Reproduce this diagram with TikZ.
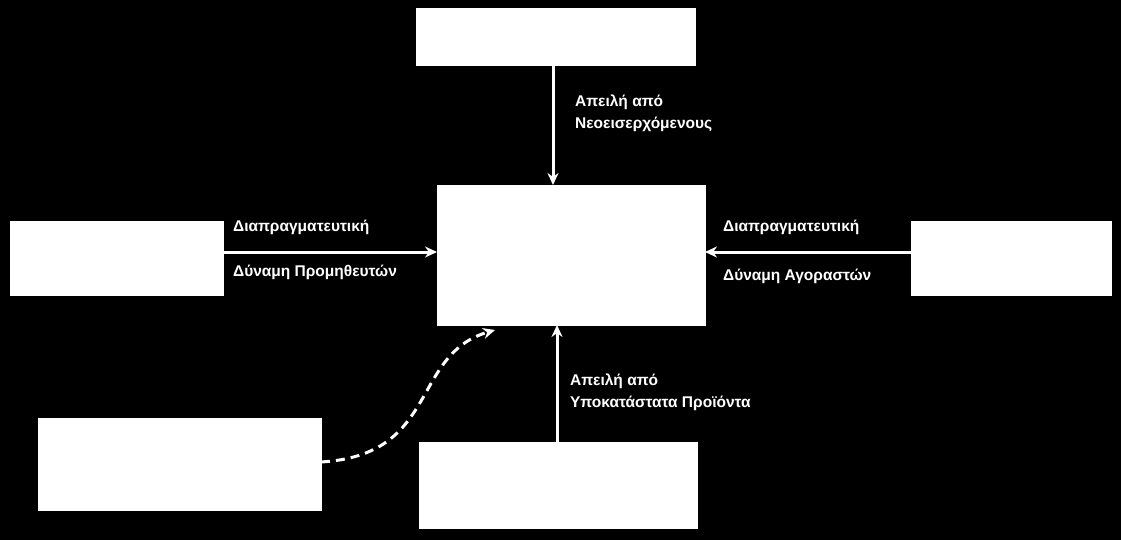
\documentclass[tikz,border=0pt]{standalone}
\usepackage{fontspec}
\setmainfont{Liberation Sans}
\usetikzlibrary{arrows.meta}
\tikzset{every picture/.style={line width=0.75pt}}
\tikzset{
  forcebox/.style={draw=white, fill=white},
  forcearrow/.style={draw=white, line width=3pt, -{Stealth[length=12pt,width=11pt]}},
  forcelabel/.style={text=white, font=\bfseries\fontsize{15.5}{19}\selectfont, inner sep=0.75pt, anchor=north west, align=left}
}
\begin{document}
\begin{tikzpicture}[x=1pt,y=1pt,yscale=-1,xscale=1]
\fill[black] (0,0) rectangle (1121,540);

%Boxes
\path[forcebox] (416,8) rectangle (695,65);
\coordinate (top) at (553,65);
\path[forcebox] (437,185) rectangle (705,325);
\coordinate (ctop) at (553,185);
\coordinate (cleft) at (437,252);
\coordinate (cright) at (705,252);
\coordinate (cbot) at (557,325);
\coordinate (cdash) at (495,330);
\path[forcebox] (10,221) rectangle (223,295);
\coordinate (left) at (223,252);
\path[forcebox] (911,221) rectangle (1111,295);
\coordinate (right) at (911,252);
\path[forcebox] (38,418) rectangle (321,510);
\coordinate (bleft) at (321,462);
\path[forcebox] (419,442) rectangle (697,528);
\coordinate (bot) at (557,442);

%Arrows
\draw[forcearrow] (top) -- (ctop);
\draw[forcearrow] (left) -- (cleft);
\draw[forcearrow] (right) -- (cright);
\draw[forcearrow] (bot) -- (cbot);
\draw[forcearrow, dash pattern=on 9pt off 6pt] (bleft) .. controls (440,455) and (410,355) .. (cdash);

% Text Node
\node[forcelabel] (newlbl) at (574,94) {Απειλή από\\[3pt]Νεοεισερχόμενους};
% Text Node
\node[forcelabel] (suplbla) at (232,219) {Διαπραγματευτική};
\node[forcelabel] (suplblb) at (232,264) {Δύναμη Προμηθευτών};
% Text Node
\node[forcelabel] (buylbla) at (722,219) {Διαπραγματευτική};
\node[forcelabel] (buylblb) at (722,268) {Δύναμη Αγοραστών};
% Text Node
\node[forcelabel] (sublbl) at (569,373) {Απειλή από\\[3pt]Υποκατάστατα Προϊόντα};
\end{tikzpicture}
\end{document}
